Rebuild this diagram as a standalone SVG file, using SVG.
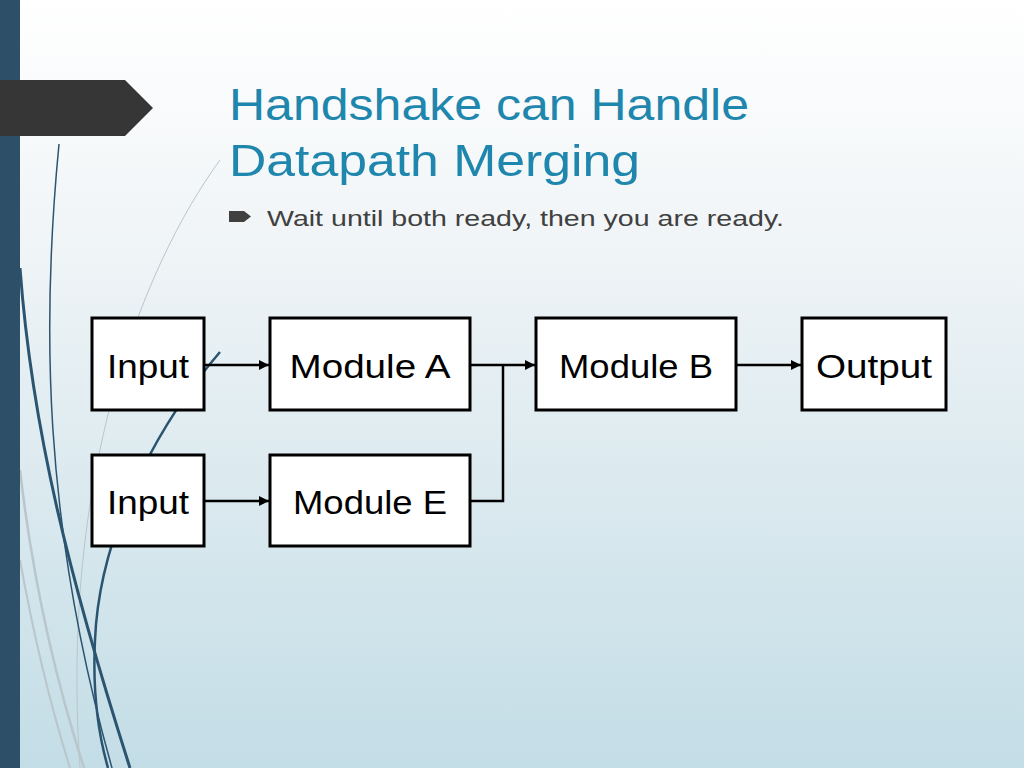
<svg xmlns="http://www.w3.org/2000/svg" width="1024" height="768" viewBox="0 0 1024 768">
  <defs>
    <linearGradient id="bg" x1="0" y1="0" x2="0" y2="1">
      <stop offset="0" stop-color="#ffffff"/>
      <stop offset="0.3" stop-color="#f1f5f7"/>
      <stop offset="1" stop-color="#c3dde6"/>
    </linearGradient>
    <marker id="arr" viewBox="0 0 10 10" refX="10" refY="5" markerWidth="11" markerHeight="10" markerUnits="userSpaceOnUse" orient="auto">
      <path d="M0,0 L10,5 L0,10 Z" fill="#000"/>
    </marker>
  </defs>
  <style>
    .box { fill: #ffffff; stroke: #000000; stroke-width: 3; }
    .lbl { font-family: "Liberation Sans", Arial, sans-serif; font-size: 33px; fill: #000; text-anchor: middle; }
    .conn { fill: none; stroke: #000; stroke-width: 2.5; }
    .title { font-family: "Liberation Sans", Arial, sans-serif; font-size: 45px; fill: #1f86ad; }
    .sub { font-family: "Liberation Sans", Arial, sans-serif; font-size: 22px; fill: #404040; }
    .dk { fill: none; stroke: #2b5470; }
    .gr { fill: none; stroke: #b9c6cb; }
  </style>
  <rect x="0" y="0" width="1024" height="768" fill="url(#bg)"/>
  <g id="decor">
    <path class="gr" stroke-width="1" d="M220,160 C140,270 60,480 80,768"/>
    <path class="gr" stroke-width="2.5" d="M20,470 C35,600 62,700 84,768"/>
    <path class="gr" stroke-width="2" d="M20,560 C38,660 55,720 70,768"/>
    <path class="dk" stroke-width="1.5" d="M59,144 C42,320 42,520 112,768"/>
    <path class="dk" stroke-width="3" d="M20,268 C32,430 70,580 130,768"/>
    <path class="dk" stroke-width="2.5" d="M220,352 C170,410 100,520 95,640 C92,700 100,740 108,768"/>
    <rect x="0" y="0" width="20" height="768" fill="#2d5068"/>
    <path d="M0,80 L125,80 L153,108 L125,136 L0,136 Z" fill="#363636"/>
  </g>
  <g id="title">
    <text class="title" x="229" y="120" textLength="520" lengthAdjust="spacingAndGlyphs">Handshake can Handle</text>
    <text class="title" x="229" y="176" textLength="411" lengthAdjust="spacingAndGlyphs">Datapath Merging</text>
  </g>
  <g id="bullet">
    <path d="M229,211 L244,211 L251,216.5 L244,222 L229,222 Z" fill="#404040"/>
    <text class="sub" x="267" y="226" textLength="517" lengthAdjust="spacingAndGlyphs">Wait until both ready, then you are ready.</text>
  </g>
  <g id="connectors">
    <line class="conn" x1="204" y1="365" x2="269" y2="365" marker-end="url(#arr)"/>
    <line class="conn" x1="204" y1="501" x2="269" y2="501" marker-end="url(#arr)"/>
    <line class="conn" x1="470" y1="365" x2="535" y2="365" marker-end="url(#arr)"/>
    <polyline class="conn" points="470,501 503,501 503,365"/>
    <line class="conn" x1="736" y1="365" x2="801" y2="365" marker-end="url(#arr)"/>
  </g>
  <g id="input1">
    <rect class="box" x="92" y="318" width="112" height="92"/>
    <text class="lbl" x="148" y="378" textLength="82" lengthAdjust="spacingAndGlyphs">Input</text>
  </g>
  <g id="moduleA">
    <rect class="box" x="270" y="318" width="200" height="92"/>
    <text class="lbl" x="370" y="378" textLength="161" lengthAdjust="spacingAndGlyphs">Module A</text>
  </g>
  <g id="moduleB">
    <rect class="box" x="536" y="318" width="200" height="92"/>
    <text class="lbl" x="636" y="378" textLength="154" lengthAdjust="spacingAndGlyphs">Module B</text>
  </g>
  <g id="output">
    <rect class="box" x="802" y="318" width="144" height="92"/>
    <text class="lbl" x="874" y="378" textLength="116" lengthAdjust="spacingAndGlyphs">Output</text>
  </g>
  <g id="input2">
    <rect class="box" x="92" y="455" width="112" height="91"/>
    <text class="lbl" x="148" y="514" textLength="82" lengthAdjust="spacingAndGlyphs">Input</text>
  </g>
  <g id="moduleE">
    <rect class="box" x="270" y="455" width="200" height="91"/>
    <text class="lbl" x="370" y="514" textLength="154" lengthAdjust="spacingAndGlyphs">Module E</text>
  </g>
</svg>
